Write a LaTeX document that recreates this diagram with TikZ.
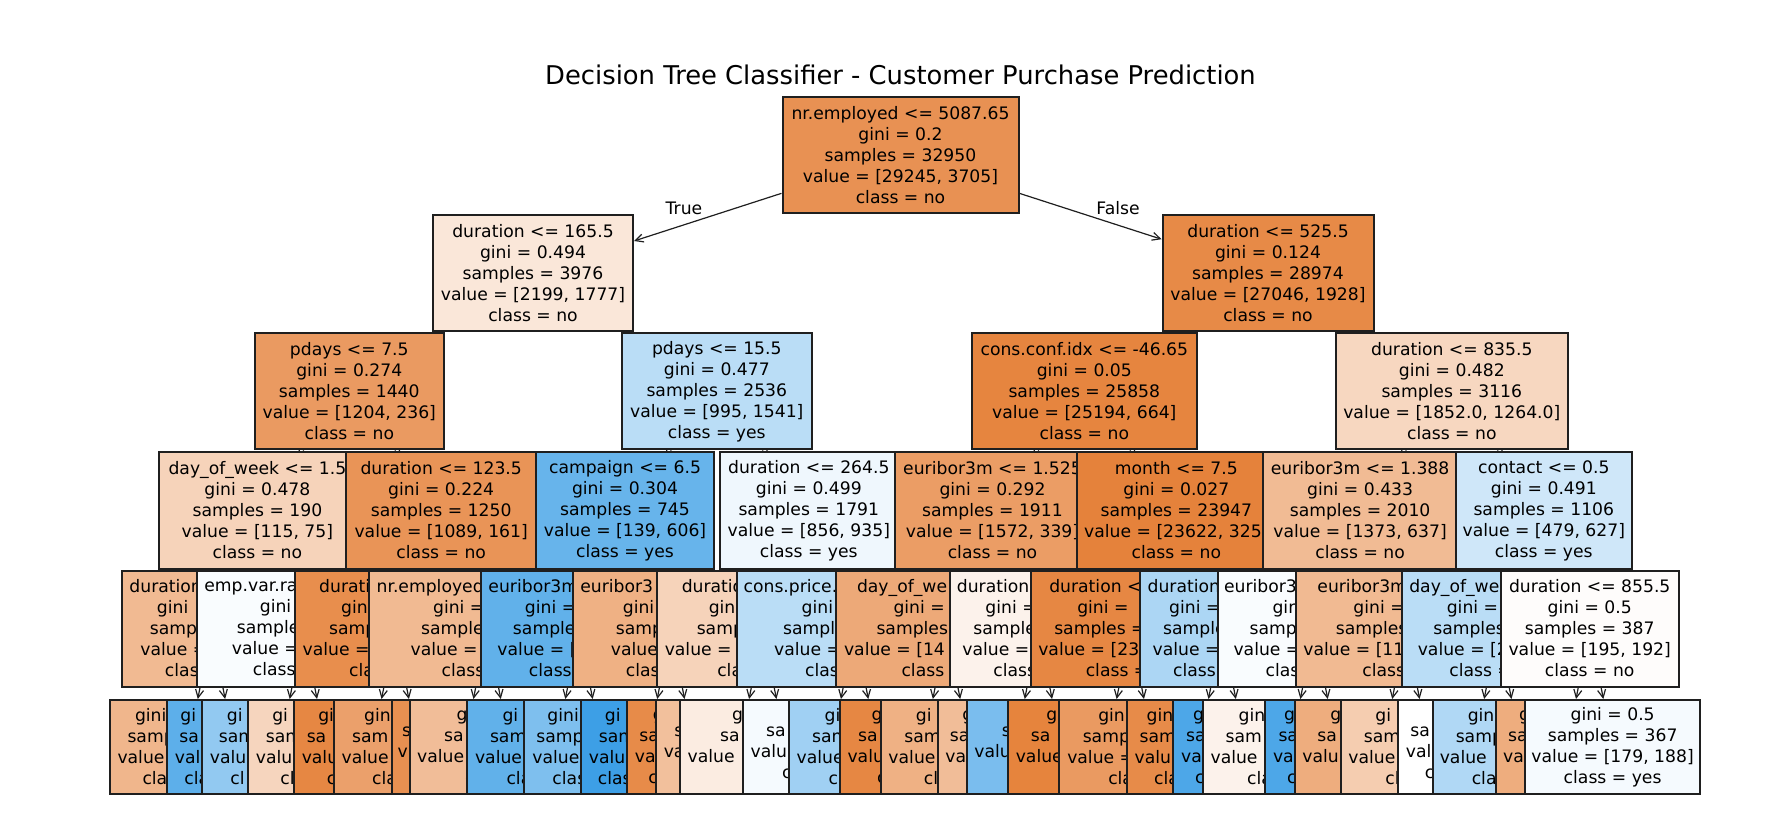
\documentclass[tikz,border=0pt]{standalone}
\usepackage{fontspec}
\setmainfont{DejaVu Sans}
\usetikzlibrary{arrows.meta, backgrounds}
\definecolor{treeO}{RGB}{229,129,57}
\definecolor{treeB}{RGB}{57,157,229}
\definecolor{edgeline}{HTML}{1F1F1F}

\newlength\fragwd
% visible part of a covered line, in a box as wide as the whole line
\newcommand\fragw[2]{\pgfmathsetlength\fragwd{(#1)*0.5pt}\makebox[\fragwd][l]{#2}}

\tikzset{
    % Node styles
    treebox/.style={
        rectangle,
        draw=edgeline,
        line width=1pt,
        inner xsep=1pt,
        inner ysep=1pt,
        align=center,
        minimum height=58pt,
        font=\fontsize{8.6}{10.5}\selectfont
    },
    leafbox/.style={
        treebox,
        minimum height=47pt
    },
    boxw/.style={minimum width=#1*0.5pt},
    % Arrow styles
    treearrow/.style={
        -{Straight Barb[length=4pt,width=4pt]},
        line width=0.6pt,
        edgeline
    },
    % tip tucked under the child box (rows that almost touch)
    tuckedarrow/.style={
        treearrow,
        shorten >=-5pt
    },
    edgelabel/.style={
        anchor=base,
        inner sep=0pt,
        font=\fontsize{8.6}{10.5}\selectfont
    }
}

\begin{document}
\begin{tikzpicture}[x=0.5pt, y=-0.5pt]
    \useasboundingbox (0,0) rectangle (1770,817);

    % Title
    \node[anchor=base, inner sep=0pt, font=\fontsize{12.9}{15}\selectfont] (title) at (900.5,85) {Decision Tree Classifier - Customer Purchase Prediction};

    % Depth 0
    \node[treebox, boxw=236, fill=treeO!87!white] (root) at (900.5,155) {nr.employed <= 5087.65\\gini = 0.2\\samples = 32950\\value = [29245, 3705]\\class = no};

    % Depth 1
    \node[treebox, boxw=200, fill=treeO!19!white] (d1n0) at (533,273.5) {duration <= 165.5\\gini = 0.494\\samples = 3976\\value = [2199, 1777]\\class = no};
    \node[treebox, boxw=211, fill=treeO!93!white] (d1n1) at (1268,273.5) {duration <= 525.5\\gini = 0.124\\samples = 28974\\value = [27046, 1928]\\class = no};

    % Depth 2
    \node[treebox, boxw=189, fill=treeO!80!white] (d2n0) at (349.3,391.5) {pdays <= 7.5\\gini = 0.274\\samples = 1440\\value = [1204, 236]\\class = no};
    \node[treebox, boxw=190, fill=treeB!35!white] (d2n1) at (716.8,391.5) {pdays <= 15.5\\gini = 0.477\\samples = 2536\\value = [995, 1541]\\class = yes};
    \node[treebox, boxw=225, fill=treeO!97!white] (d2n2) at (1084.3,391.5) {cons.conf.idx <= -46.65\\gini = 0.05\\samples = 25858\\value = [25194, 664]\\class = no};
    \node[treebox, boxw=232, fill=treeO!32!white] (d2n3) at (1451.8,391.5) {duration <= 835.5\\gini = 0.482\\samples = 3116\\value = [1852.0, 1264.0]\\class = no};

    % Depth 3
    \node[treebox, boxw=197, fill=treeO!35!white] (d3n0) at (257.4,510.5) {day\_of\_week <= 1.5\\gini = 0.478\\samples = 190\\value = [115, 75]\\class = no};
    \node[treebox, boxw=190, fill=treeO!85!white] (d3n1) at (441.2,510.5) {duration <= 123.5\\gini = 0.224\\samples = 1250\\value = [1089, 161]\\class = no};
    \node[treebox, boxw=178, fill=treeB!77!white] (d3n2) at (625,510.5) {campaign <= 6.5\\gini = 0.304\\samples = 745\\value = [139, 606]\\class = yes};
    \node[treebox, boxw=178, fill=treeB!8!white] (d3n3) at (808.8,510.5) {duration <= 264.5\\gini = 0.499\\samples = 1791\\value = [856, 935]\\class = yes};
    \node[treebox, boxw=195, fill=treeO!78!white] (d3n4) at (992.5,510.5) {euribor3m <= 1.525\\gini = 0.292\\samples = 1911\\value = [1572, 339]\\class = no};
    \node[treebox, boxw=198, fill=treeO!99!white] (d3n5) at (1176.3,510.5) {month <= 7.5\\gini = 0.027\\samples = 23947\\value = [23622, 325]\\class = no};
    \node[treebox, boxw=194, fill=treeO!54!white] (d3n6) at (1360.1,510.5) {euribor3m <= 1.388\\gini = 0.433\\samples = 2010\\value = [1373, 637]\\class = no};
    \node[treebox, boxw=176, fill=treeB!24!white] (d3n7) at (1543.8,510.5) {contact <= 0.5\\gini = 0.491\\samples = 1106\\value = [479, 627]\\class = yes};

    % Depth 4 (each box hides the right part of the one before)
    \foreach \i/\hue/\al/\w/\widA/\txA/\widB/\txB/\widC/\txC/\widD/\txD/\widE/\txE in {
        0/O/55/179/164/duration/109/gini/123/samp/142/{value =}/93/clas,
        1/B/3/213/198/emp.var.ra/87/gini/133/sample/143/{value =}/101/class,
        2/O/90/200/152/durati/108/gin/132/samp/185/{value =}/92/cla,
        3/O/55/236/221/nr.employed/108/{gini =}/132/sample/153/{value =}/91/class,
        4/B/80/196/181/euribor3m/108/{gini =}/132/sample/163/{value = [}/100/class,
        5/O/62/196/181/euribor3/96/gini/110/samp/120/value/90/clas,
        6/O/35/212/162/duratio/108/gin/132/samp/196/{value =}/91/cla,
        7/B/35/235/222/cons.price./106/gini/143/sampl/161/{value =}/99/clas,
        8/O/68/221/179/day\_of\_we/106/{gini =}/140/samples/205/{value = [14}/90/class,
        9/O/10/177/163/duration/106/{gini =}/130/sample/152/{value =}/90/class,
        10/O/95/199/162/{duration <}/106/{gini =}/152/{samples =}/184/{value = [23}/89/{class =},
        11/B/42/164/149/duration/106/{gini =}/118/sample/139/{value =}/98/class,
        12/B/3/192/180/euribor3/83/gin/129/samp/161/{value =}/97/clas,
        13/O/55/220/177/euribor3m/105/{gini =}/140/samples/205/{value = [11}/87/class,
        14/B/35/192/177/day\_of\_we/102/{gini =}/129/samples/160/{value = [2}/97/{class =}} {
        \node[treebox, boxw=\w, fill=tree\hue!\al!white] (d4n\i) at ({211.47+91.88*\i},628.5)
            {\fragw{\widA}{\txA}\\\fragw{\widB}{\txB}\\\fragw{\widC}{\txC}\\\fragw{\widD}{\txD}\\\fragw{\widE}{\txE}};
    }
    \node[treebox, boxw=178, fill=treeO!2!white] (d4n15) at (1589.7,628.5) {duration <= 855.5\\gini = 0.5\\samples = 387\\value = [195, 192]\\class = no};

    % Leaves
    \foreach \i/\hue/\al/\w/\widB/\txB/\widC/\txC/\widD/\txD/\widE/\txE in {
        0/O/58/158/107/gini/122/samp/142/value/92/cla,
        1/B/82/135/108/gi/110/sa/119/val/100/cla,
        2/B/55/157/107/gi/123/sam/141/valu/100/cl,
        3/O/33/156/108/gi/121/sam/141/valu/92/cl,
        4/O/95/157/108/gi/131/sa/141/valu/91/c,
        5/O/75/169/108/gin/132/sam/153/value/92/cla,
        6/O/88/145/106/{}/124/s/133/v/90/{},
        7/O/52/200/107/g/132/sa/186/value/90/c,
        8/B/80/178/107/gi/132/sam/162/value/99/cla,
        9/B/65/155/109/gini/131/samp/139/value/99/clas,
        10/B/98/133/86/gi/98/sam/118/valu/100/clas,
        11/O/92/133/82/g/109/sa/118/va/91/c,
        12/O/50/167/106/{}/131/s/152/va/90/{},
        13/O/15/211/107/g/131/sa/196/value/84/{},
        14/B/5/178/80/{}/131/sa/162/valu/99/c,
        15/B/48/177/106/gi/131/sam/162/value/98/c,
        16/O/95/167/104/g/131/sa/152/valu/93/c,
        17/O/62/176/107/gi/130/sam/162/value/91/cl,
        18/O/52/154/106/g/131/sa/140/va/87/{},
        19/B/67/189/100/{}/119/s/174/valu/97/{},
        20/O/98/199/122/g/153/sa/183/value/87/{},
        21/O/80/188/110/gin/141/samp/172/{value =}/90/cla,
        22/O/92/144/105/gin/119/sam/129/valu/90/cla,
        23/B/90/144/104/g/118/sa/128/va/100/c,
        24/O/10/176/105/gin/131/sam/161/value/88/cla,
        25/B/90/144/106/g/117/sa/128/va/100/c,
        26/O/65/176/105/g/131/sa/161/valu/84/{},
        27/O/40/176/107/gi/130/sam/161/value/87/cl,
        28/O/0/153/80/{}/129/sa/138/val/100/c,
        29/B/40/176/106/gin/130/samp/162/value/98/cla,
        30/O/65/141/95/g/117/sa/127/va/80/{}} {
        \node[leafbox, boxw=\w, fill=tree\hue!\al!white] (leaf\i) at ({188.5+45.94*\i},747)
            {\fragw{\widB}{\txB}\\\fragw{\widC}{\txC}\\\fragw{\widD}{\txD}\\\fragw{\widE}{\txE}};
    }
    \node[leafbox, boxw=175, fill=treeB!5!white] (leaf31) at (1612.6,747) {gini = 0.5\\samples = 367\\value = [179, 188]\\class = yes};

    % Edge labels
    \node[edgelabel] (lbltrue) at (684,215) {True};
    \node[edgelabel] (lblfalse) at (1118,215) {False};

    % Connectors
    \begin{scope}[on background layer]
        \draw[treearrow] (root) -- (d1n0);
        \draw[treearrow] (root) -- (d1n1);
        \foreach \p [evaluate=\p as \ca using int(2*\p), evaluate=\p as \cb using int(2*\p+1)] in {0,1} {
            \draw[tuckedarrow] (d1n\p) -- (d2n\ca);
            \draw[tuckedarrow] (d1n\p) -- (d2n\cb);
        }
        \foreach \p [evaluate=\p as \ca using int(2*\p), evaluate=\p as \cb using int(2*\p+1)] in {0,...,3} {
            \draw[tuckedarrow] (d2n\p) -- (d3n\ca);
            \draw[tuckedarrow] (d2n\p) -- (d3n\cb);
        }
        \foreach \p [evaluate=\p as \ca using int(2*\p), evaluate=\p as \cb using int(2*\p+1)] in {0,...,7} {
            \draw[tuckedarrow] (d3n\p) -- (d4n\ca);
            \draw[tuckedarrow] (d3n\p) -- (d4n\cb);
        }
        \foreach \p [evaluate=\p as \ca using int(2*\p), evaluate=\p as \cb using int(2*\p+1)] in {0,...,15} {
            \draw[treearrow] (d4n\p) -- (leaf\ca);
            \draw[treearrow] (d4n\p) -- (leaf\cb);
        }
    \end{scope}
\end{tikzpicture}
\end{document}
